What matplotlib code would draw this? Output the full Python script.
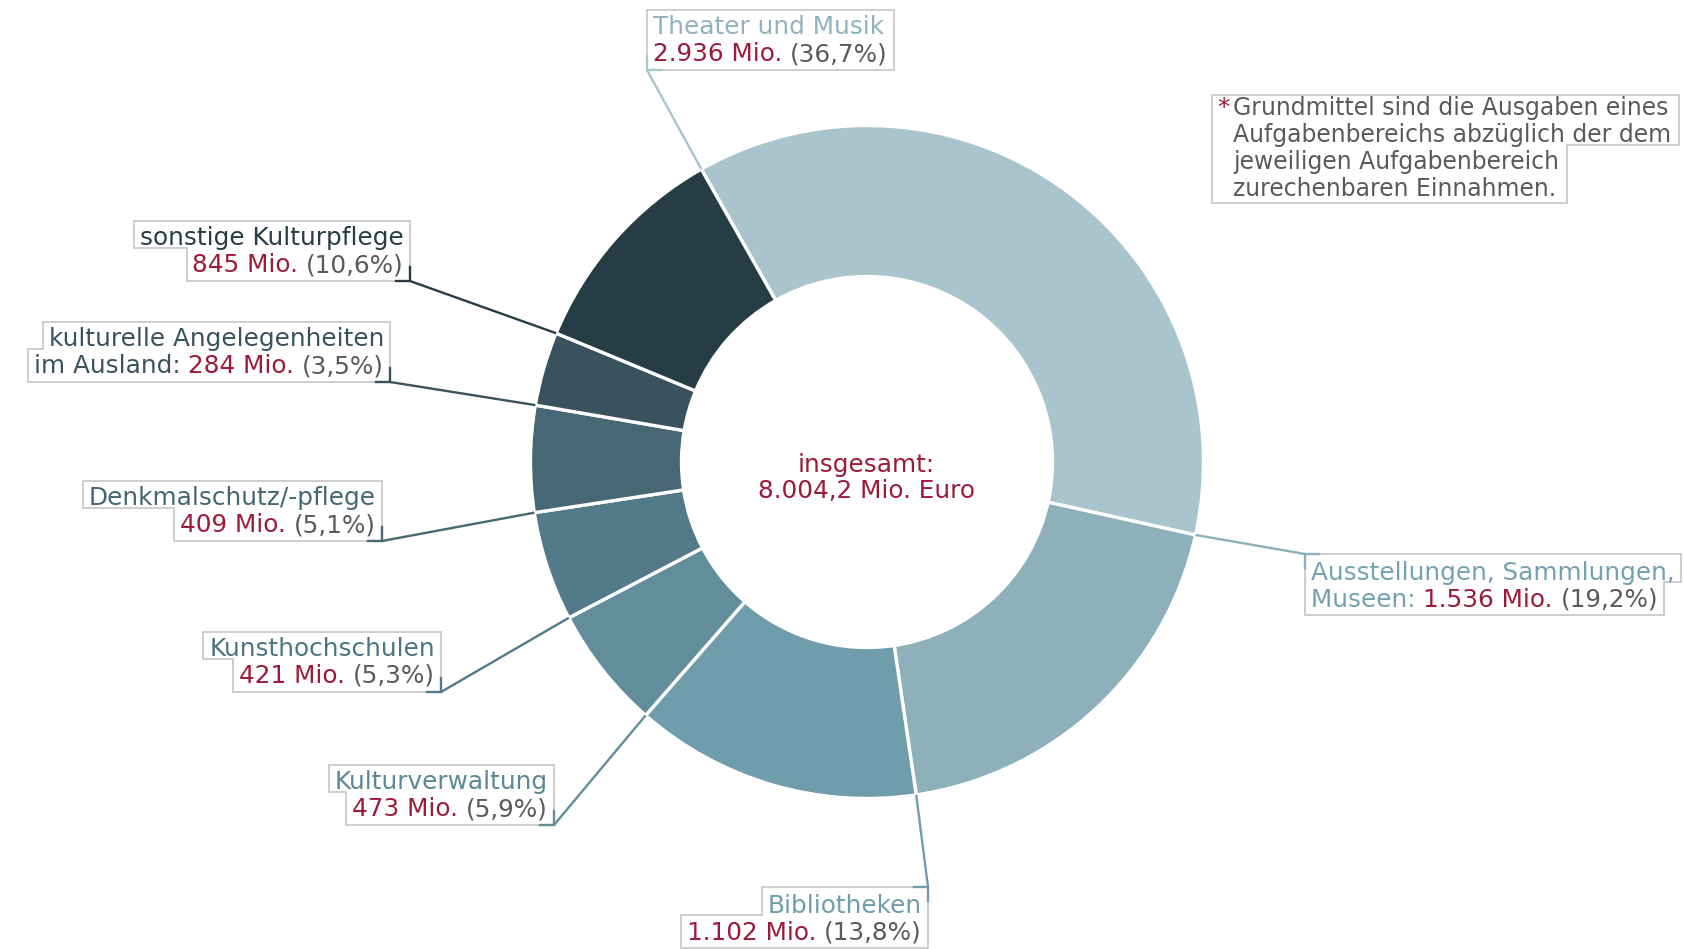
import matplotlib
matplotlib.use("Agg")
import matplotlib.pyplot as plt
from matplotlib.patches import Polygon
import numpy as np

# ---------------- data ----------------
categories = ["Theater und Musik", "Ausstellungen, Sammlungen, Museen", "Bibliotheken",
              "Kulturverwaltung", "Kunsthochschulen", "Denkmalschutz/-pflege",
              "kulturelle Angelegenheiten im Ausland", "sonstige Kulturpflege"]
values_mio = [2936, 1536, 1102, 473, 421, 409, 284, 845]
value_labels = ["2.936 Mio.", "1.536 Mio.", "1.102 Mio.", "473 Mio.", "421 Mio.",
                "409 Mio.", "284 Mio.", "845 Mio."]
percent_labels = ["(36,7%)", "(19,2%)", "(13,8%)", "(5,9%)", "(5,3%)", "(5,1%)",
                  "(3,5%)", "(10,6%)"]
label_first_lines = ["Theater und Musik", "Ausstellungen, Sammlungen,", "Bibliotheken",
                     "Kulturverwaltung", "Kunsthochschulen", "Denkmalschutz/-pflege",
                     "kulturelle Angelegenheiten", "sonstige Kulturpflege"]
label_prefixes = ["", "Museen: ", "", "", "", "", "im Ausland: ", ""]
total_lines = ["insgesamt:", "8.004,2 Mio. Euro"]
footnote_lines = ["Grundmittel sind die Ausgaben eines",
                  "Aufgabenbereichs abzüglich der dem",
                  "jeweiligen Aufgabenbereich",
                  "zurechenbaren Einnahmen."]

# ---------------- style / layout ----------------
slice_colors = ["#aac4cd", "#8db0bb", "#6f9dac", "#628e9c", "#537a88", "#466773",
                "#3a525d", "#273d46"]
name_colors = ["#8fb3bf", "#74a1b0", "#6f9dac", "#5a8896", "#4d7482", "#456673",
               "#3a525d", "#273d46"]
RED = "#9c1b3b"
GRAY = "#5a5a5a"
BOXEDGE = "#c6c6c6"
FONT = "DejaVu Sans"
FS = 17.8

W, H = 1684, 949
CX, CY = 867, 462
R_OUT, R_IN = 336.5, 185.5

# anchor (pixel coords, y downwards) and which box corner it touches
anchors = [(647, 70, "bl"), (1305, 554, "tl"), (928, 887, "tr"), (554, 825, "br"),
           (441, 692, "br"), (382, 541, "br"), (390, 382, "br"), (410, 281, "br")]

LINE_SP = 26.8
PADX = 6
TICK = 14

fig = plt.figure(figsize=(W / 100, H / 100), dpi=100)
ax = fig.add_axes([0, 0, 1, 1])

wedges, _ = ax.pie(values_mio, colors=slice_colors, startangle=119.5, counterclock=False,
                   radius=R_OUT, center=(CX, H - CY),
                   wedgeprops=dict(width=R_OUT - R_IN, edgecolor="white", linewidth=2.4))
ax.set_xlim(0, W)
ax.set_ylim(0, H)
ax.set_aspect("equal")
ax.axis("off")

renderer = fig.canvas.get_renderer()


def twidth(s, fs=FS):
    t = ax.text(0, 0, s, fontsize=fs, family=FONT)
    w = t.get_window_extent(renderer).width
    t.remove()
    return w


def draw_line(runs, x, center_y, align, fs=FS):
    """runs: list of (text, color). Spaces only at run ends. Returns (x0, x1)."""
    full = "".join(r[0] for r in runs)
    Wt = twidth(full, fs)
    x0 = x if align == "left" else x - Wt
    base = H - (center_y + 9)
    for i, (s, c) in enumerate(runs):
        suffix = "".join(r[0] for r in runs[i:])
        xs = x0 + Wt - twidth(suffix, fs)
        ax.text(xs, base, s, fontsize=fs, family=FONT, color=c, ha="left", va="baseline",
                zorder=5)
    return x0, x0 + Wt


def merge_close(vals, tol, fn):
    vals = list(vals)
    for i in range(1, len(vals)):
        if abs(vals[i] - vals[i - 1]) < tol:
            m = fn(vals[i], vals[i - 1])
            vals[i] = vals[i - 1] = m
    return vals


def draw_box(lefts, rights, top, bottom, centers):
    lefts = merge_close(lefts, 12, min)
    rights = merge_close(rights, 12, max)
    n = len(centers)
    ys = [top] + [(centers[i] + centers[i + 1]) / 2 - 2 for i in range(n - 1)] + [bottom]
    pts = []
    for i in range(n):
        pts += [(rights[i], ys[i]), (rights[i], ys[i + 1])]
    for i in reversed(range(n)):
        pts += [(lefts[i], ys[i + 1]), (lefts[i], ys[i])]
    pts = [(px, H - py) for px, py in pts]
    ax.add_patch(Polygon(pts, closed=True, facecolor="white", edgecolor=BOXEDGE,
                         linewidth=1.2, zorder=3))


# ---------------- labels with leader lines ----------------
for i, w in enumerate(wedges):
    axp, ayp, corner = anchors[i]
    ang = np.deg2rad(w.theta2)
    sx = CX + R_OUT * np.cos(ang)
    sy = (H - CY) + R_OUT * np.sin(ang)
    lc = slice_colors[i]
    ax.plot([sx, axp], [sy, H - ayp], color=lc, lw=1.7, zorder=6, solid_capstyle="butt")
    hx = -TICK if corner[1] == "r" else TICK
    vy = TICK if corner[0] == "b" else -TICK  # data coords (y up)
    ax.plot([axp + hx, axp, axp], [H - ayp, H - ayp, H - ayp + vy], color=lc, lw=1.7,
            zorder=6, solid_joinstyle="miter")

    line1 = [(label_first_lines[i], name_colors[i])]
    line2 = []
    if label_prefixes[i]:
        line2.append((label_prefixes[i], name_colors[i]))
    line2 += [(value_labels[i] + " ", RED), (percent_labels[i], GRAY)]
    lines = [line1, line2]

    if corner[0] == "b":
        c2 = ayp - 18
        centers = [c2 - LINE_SP, c2]
        top, bottom = centers[0] - 15, ayp
    else:
        c1 = ayp + 17
        centers = [c1, c1 + LINE_SP]
        top, bottom = ayp, centers[-1] + 17
    align = "right" if corner[1] == "r" else "left"
    xt = axp - PADX if align == "right" else axp + PADX
    lefts, rights = [], []
    for ln, cy in zip(lines, centers):
        a, b = draw_line(ln, xt, cy, align)
        lefts.append(a - PADX)
        rights.append(b + PADX)
    if align == "right":
        rights = [axp] * len(rights)
    else:
        lefts = [axp] * len(lefts)
    draw_box(lefts, rights, top, bottom, centers)

# ---------------- centre text ----------------
for k, (s, cy) in enumerate(zip(total_lines, [463, 489])):
    ax.text(CX - 1, H - (cy + 9), s, fontsize=FS, family=FONT, color=RED, ha="center",
            va="baseline", zorder=5)

# ---------------- footnote ----------------
fx = 1233
FOOT_MAXW = 441
widest = max(twidth(s) for s in footnote_lines)
fs_foot = FS * min(1.0, FOOT_MAXW / widest)
fcenters = [106.3 + k * LINE_SP for k in range(len(footnote_lines))]
lefts, rights = [], []
for k, (s, cy) in enumerate(zip(footnote_lines, fcenters)):
    a, b = draw_line([(s, GRAY)], fx, cy, "left", fs_foot)
    lefts.append(a - 10)
    rights.append(b + 8)
ax.text(1217, H - (fcenters[0] + 9), "*", fontsize=FS, family=FONT, color=RED,
        ha="left", va="baseline", zorder=5)
lefts[0] = 1212
draw_box(lefts, rights, fcenters[0] - 11.5, fcenters[-1] + 16, fcenters)

fig.savefig("out.png", dpi=100, facecolor="white")
